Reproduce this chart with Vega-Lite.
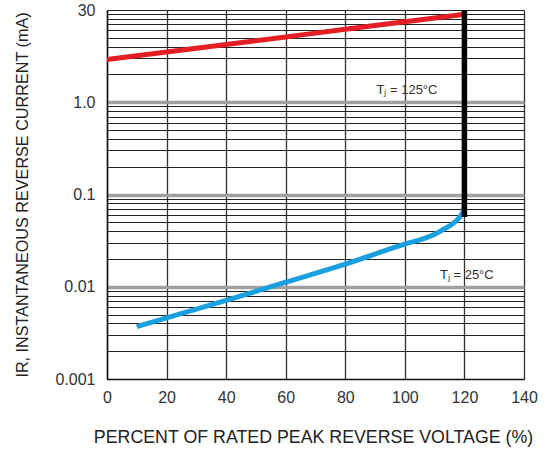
{
  "$schema": "https://vega.github.io/schema/vega-lite/v6.json",
  "width": 417,
  "height": 369,
  "autosize": "none",
  "padding": {"left": 107, "top": 10, "right": 28, "bottom": 71},
  "background": "white",
  "config": {
    "view": {"stroke": null},
    "font": "Liberation Sans"
  },
  "datasets": {
    "curves": [
      {"pct": 0, "ir": 2.9, "s": "125"},
      {"pct": 20, "ir": 3.5, "s": "125"},
      {"pct": 40, "ir": 4.23, "s": "125"},
      {"pct": 60, "ir": 5.11, "s": "125"},
      {"pct": 80, "ir": 6.17, "s": "125"},
      {"pct": 100, "ir": 7.46, "s": "125"},
      {"pct": 120, "ir": 9.0, "s": "125"},
      {"pct": 10, "ir": 0.0037, "s": "25"},
      {"pct": 40, "ir": 0.0071, "s": "25"},
      {"pct": 60, "ir": 0.0112, "s": "25"},
      {"pct": 80, "ir": 0.0176, "s": "25"},
      {"pct": 100, "ir": 0.029, "s": "25"},
      {"pct": 106, "ir": 0.033, "s": "25"},
      {"pct": 110, "ir": 0.037, "s": "25"},
      {"pct": 113, "ir": 0.042, "s": "25"},
      {"pct": 116, "ir": 0.048, "s": "25"},
      {"pct": 118, "ir": 0.055, "s": "25"},
      {"pct": 119.5, "ir": 0.065, "s": "25"},
      {"pct": 120, "ir": 0.075, "s": "25"}
    ],
    "bar": [
      {"pct": 120, "ir": 0.057},
      {"pct": 120, "ir": 10}
    ],
    "labels": [
      {"pct": 100.7, "ir": 1.36, "text": "Tⱼ = 125°C"},
      {"pct": 120.8, "ir": 0.0134, "text": "Tⱼ = 25°C"}
    ]
  },
  "layer": [
    {
      "data": {"name": "curves"},
      "mark": {"type": "line", "strokeWidth": 5, "interpolate": "monotone", "strokeCap": "butt"},
      "encoding": {
        "x": {
          "field": "pct", "type": "quantitative",
          "scale": {"domain": [0, 140], "nice": false},
          "axis": {
            "values": [0, 20, 40, 60, 80, 100, 120, 140],
            "title": "PERCENT OF RATED PEAK REVERSE VOLTAGE (%)",
            "titleFontSize": 17.8, "titleFontWeight": "normal", "titleColor": "#222",
            "titleY": 49, "titleX": 206, "titleBaseline": "top",
            "labelFontSize": 16, "labelColor": "#333", "labelPadding": 10,
            "labelFlush": false,
            "ticks": false, "domainColor": "#111", "domainWidth": 1.5,
            "grid": true, "gridColor": "#333", "gridWidth": 1.3, "gridOpacity": 1
          }
        },
        "y": {
          "field": "ir", "type": "quantitative",
          "scale": {"type": "log", "domain": [0.001, 10], "nice": false},
          "axis": {
            "values": [0.001, 0.002, 0.003, 0.004, 0.005, 0.006, 0.007, 0.008, 0.009,
                       0.01, 0.02, 0.03, 0.04, 0.05, 0.06, 0.07, 0.08, 0.09,
                       0.1, 0.2, 0.3, 0.4, 0.5, 0.6, 0.7, 0.8, 0.9,
                       1, 2, 3, 4, 5, 6, 7, 8, 9, 10],
            "labelExpr": "datum.value==10?'30':datum.value==1?'1.0':datum.value==0.1?'0.1':datum.value==0.01?'0.01':datum.value==0.001?'0.001':''",
            "title": "IR, INSTANTANEOUS REVERSE CURRENT (mA)",
            "titleFontSize": 16.2, "titleFontWeight": "normal", "titleColor": "#222",
            "titleX": -77,
            "labelFontSize": 16, "labelColor": "#333", "labelPadding": 12,
            "labelFlush": false, "labelOverlap": false,
            "ticks": false, "domainColor": "#111", "domainWidth": 1.5,
            "grid": true,
            "gridColor": {"condition": {"test": "datum.value==0.01||datum.value==0.1||datum.value==1", "value": "#a0a0a0"}, "value": "#222"},
            "gridWidth": {"condition": {"test": "datum.value==0.01||datum.value==0.1||datum.value==1", "value": 3.5}, "value": 1},
            "gridOpacity": 1
          }
        },
        "color": {
          "field": "s", "type": "nominal",
          "scale": {"domain": ["125", "25"], "range": ["#e31e24", "#1a9fdf"]},
          "legend": null
        }
      }
    },
    {
      "data": {"name": "bar"},
      "mark": {"type": "line", "strokeWidth": 5.5, "color": "#000", "strokeCap": "butt"},
      "encoding": {
        "x": {"field": "pct", "type": "quantitative"},
        "y": {"field": "ir", "type": "quantitative"}
      }
    },
    {
      "data": {"name": "labels"},
      "mark": {"type": "text", "fontSize": 13, "color": "#333", "align": "center", "baseline": "middle", "font": "Liberation Sans"},
      "encoding": {
        "x": {"field": "pct", "type": "quantitative"},
        "y": {"field": "ir", "type": "quantitative"},
        "text": {"field": "text"}
      }
    }
  ]
}
